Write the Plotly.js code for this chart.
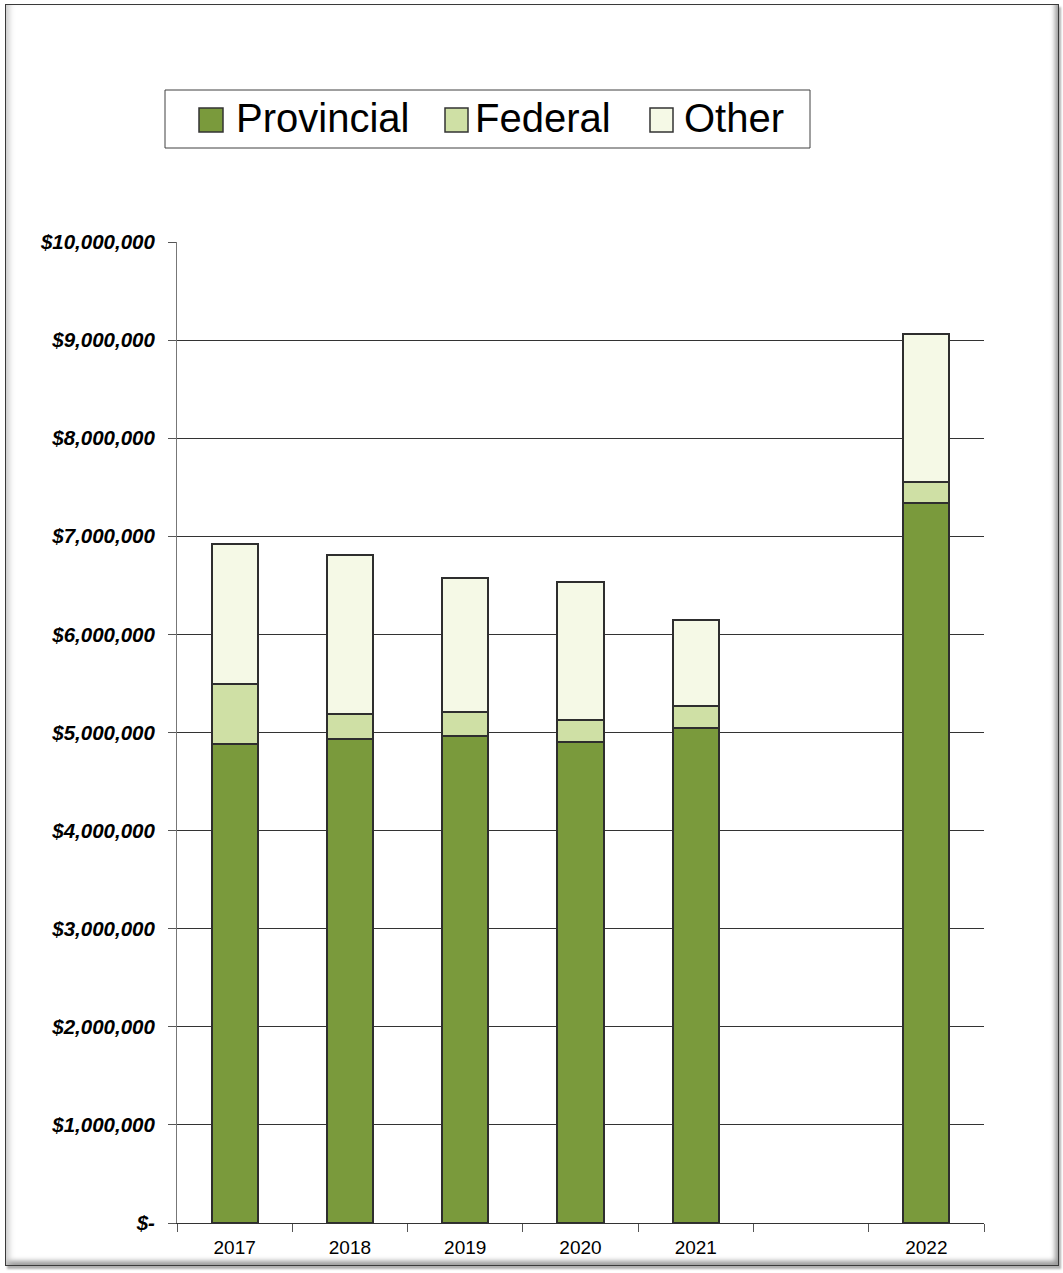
<!DOCTYPE html>
<html>
<head>
<meta charset="utf-8">
<script src="https://cdn.plot.ly/plotly-3.0.1.min.js"></script>
<style>
  html, body { margin: 0; padding: 0; background: #fff; }
  #wrap { position: relative; width: 1063px; height: 1273px; }
  #chart { position: absolute; left: 0; top: 0; width: 1063px; height: 1273px; }
  #frame {
    position: absolute; left: 5px; top: 4px; width: 1052px; height: 1260px;
    border: 1px solid #3a3a3a; pointer-events: none;
    box-shadow: inset 7px 0 6px -4px #c8c8c8, inset -5px -6px 5px -2px #9a9a9a, 2px 3px 2px #b0b0b0;
  }
</style>
</head>
<body>
<div id="wrap">
  <div id="chart"></div>
  <div id="frame"></div>
</div>
<script>
// ---- data ----
const years = ['2017', '2018', '2019', '2020', '2021', ' ', '2022'];
const provincial = [4880000, 4930000, 4960000, 4900000, 5050000, null, 7340000];
const federal    = [610000, 260000, 250000, 230000, 220000, null, 210000];
const other      = [1430000, 1620000, 1370000, 1400000, 880000, null, 1510000];
const seriesNames = ['Provincial', 'Federal', 'Other'];
const yTickVals = [0, 1000000, 2000000, 3000000, 4000000, 5000000, 6000000, 7000000, 8000000, 9000000, 10000000];
const yTickText = ['$-', '$1,000,000', '$2,000,000', '$3,000,000', '$4,000,000', '$5,000,000',
                   '$6,000,000', '$7,000,000', '$8,000,000', '$9,000,000', '$10,000,000'];

// ---- styles ----
const colors = ['#7a9a3c', '#cfe0a5', '#f5f9e6'];
const FONT = 'Arial, "Liberation Sans", sans-serif';

const W = 1063, H = 1273;
const M = { l: 177, r: 79, t: 242, b: 50 };
const PW = W - M.l - M.r, PH = H - M.t - M.b;
const px = x => (x - M.l) / PW;
const py = y => (H - M.b - y) / PH;

const series = [provincial, federal, other];
const traces = series.map((vals, i) => ({
  type: 'bar',
  name: seriesNames[i],
  x: years,
  y: vals,
  marker: { color: colors[i], line: { color: '#2e2e2e', width: 2 } },
  hoverinfo: 'x+y+name',
  showlegend: false
}));

// manual legend (large swatches)
const legSwatchX = [[199, 223], [445, 468], [650, 673]];
const legTextX = [234, 473, 682];
const shapes = [{
  type: 'rect', xref: 'paper', yref: 'paper',
  x0: px(165), x1: px(810), y0: py(148), y1: py(90),
  line: { color: '#404040', width: 1 }, fillcolor: 'rgba(0,0,0,0)'
}];
const annotations = [];
seriesNames.forEach((n, i) => {
  shapes.push({
    type: 'rect', xref: 'paper', yref: 'paper',
    x0: px(legSwatchX[i][0]), x1: px(legSwatchX[i][1]), y0: py(132), y1: py(108),
    line: { color: '#333', width: 1.5 }, fillcolor: colors[i]
  });
  annotations.push({
    xref: 'paper', yref: 'paper', x: px(legTextX[i]), y: py(118),
    xanchor: 'left', yanchor: 'middle', showarrow: false,
    text: n, font: { family: FONT, size: 40, color: '#000' }
  });
});

const layout = {
  width: W, height: H,
  margin: M,
  paper_bgcolor: '#fff', plot_bgcolor: '#fff',
  barmode: 'stack',
  bargap: 0.6,
  showlegend: false,
  font: { family: FONT, color: '#000' },
  xaxis: {
    type: 'category',
    categoryorder: 'array', categoryarray: years,
    range: [-0.5, 6.5],
    showgrid: false, zeroline: false,
    showline: true, linecolor: '#333', linewidth: 1,
    ticks: 'outside', tickson: 'boundaries', ticklen: 8, tickcolor: '#555', tickwidth: 1,
    ticklabelstandoff: 7,
    tickfont: { family: FONT, size: 19, color: '#000' },
    fixedrange: true
  },
  yaxis: {
    range: [0, 10000000],
    tickvals: yTickVals, ticktext: yTickText,
    showgrid: true, gridcolor: '#333', gridwidth: 1,
    zeroline: false,
    showline: true, linecolor: '#777', linewidth: 1,
    ticks: 'outside', ticklen: 8, tickcolor: '#555', tickwidth: 1,
    ticklabelstandoff: 9,
    tickfont: { family: FONT, size: 20.5, color: '#000', weight: 'bold', style: 'italic' },
    fixedrange: true
  },
  shapes: shapes,
  annotations: annotations
};

Plotly.newPlot('chart', traces, layout, { displayModeBar: false, staticPlot: true });
</script>
</body>
</html>
